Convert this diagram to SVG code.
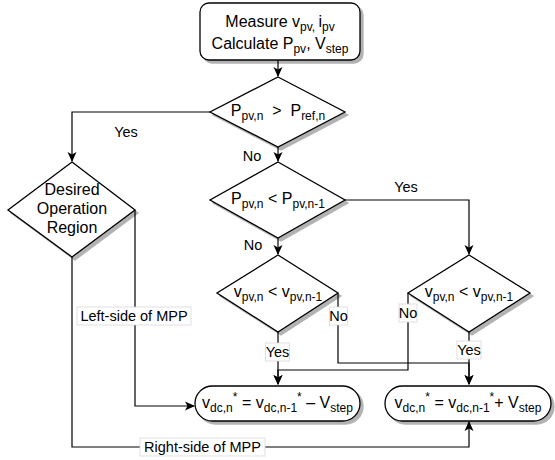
<svg xmlns="http://www.w3.org/2000/svg" width="555" height="460" viewBox="0 0 555 460">
<style>
.shape{fill:#fff;stroke:#000;stroke-width:1.3}
.edge{fill:none;stroke:#000;stroke-width:1.2}
text{font-family:"Liberation Sans",Arial,sans-serif;fill:#000}
.t{font-size:16px;text-anchor:middle}
.lbl{font-size:14.5px;text-anchor:middle}
.lbg{fill:#fff;stroke:#d8d8d8;stroke-width:0.8}
</style>
<defs>
<filter id="sh" x="-10%" y="-10%" width="130%" height="130%">
<feDropShadow dx="3" dy="3" stdDeviation="0.6" flood-color="#000" flood-opacity="0.3"/>
</filter>
<marker id="arr" viewBox="0 0 10 10" refX="9" refY="5" markerWidth="10" markerHeight="10" markerUnits="userSpaceOnUse" orient="auto">
<path d="M0,0.5 L10,5 L0,9.5 L2.5,5 Z" fill="#000"/>
</marker>
</defs>

<g id="connectors">
<path class="edge" d="M278,60 V76" marker-end="url(#arr)"/>
<path class="edge" d="M210,112 H72 V161" marker-end="url(#arr)"/>
<path class="edge" d="M278,147 V161" marker-end="url(#arr)"/>
<path class="edge" d="M345,200 H469 V254" marker-end="url(#arr)"/>
<path class="edge" d="M278,238 V254" marker-end="url(#arr)"/>
<path class="edge" d="M338,293 V363 H469 V384" marker-end="url(#arr)"/>
<path class="edge" d="M408,293 V370 H278 V384" marker-end="url(#arr)"/>
<path class="edge" d="M278,332 V384" marker-end="url(#arr)"/>
<path class="edge" d="M469,332 V384" marker-end="url(#arr)"/>
<path class="edge" d="M135,210 V406 H194" marker-end="url(#arr)"/>
<path class="edge" d="M72,257 V447 H469 V422" marker-end="url(#arr)"/>

<text class="lbl" x="126" y="137">Yes</text>
<text class="lbl" x="252" y="161">No</text>
<text class="lbl" x="406" y="192">Yes</text>
<text class="lbl" x="253" y="250">No</text>

<rect class="lbg" x="329.5" y="307" width="18" height="18"/>
<text class="lbl" x="338.5" y="321">No</text>
<rect class="lbg" x="399" y="304" width="18" height="18"/>
<text class="lbl" x="408" y="318">No</text>
<rect class="lbg" x="265.5" y="343" width="24" height="18"/>
<text class="lbl" x="277.5" y="357">Yes</text>
<rect class="lbg" x="457" y="341" width="24" height="18"/>
<text class="lbl" x="469" y="355">Yes</text>
<rect class="lbg" x="77" y="307" width="114" height="18"/>
<text class="lbl" x="134" y="321">Left-side of MPP</text>
<rect class="lbg" x="140" y="438" width="125" height="18"/>
<text class="lbl" x="202.5" y="452">Right-side of MPP</text>
</g>

<g id="start">
<rect class="shape" filter="url(#sh)" x="200" y="3" width="160" height="57" rx="9"/>
<text class="t" x="280" y="27">Measure v<tspan dy="4" font-size="12">pv, </tspan><tspan dy="-4">i</tspan><tspan dy="4" font-size="12">pv</tspan></text>
<text class="t" x="280" y="49">Calculate P<tspan dy="4" font-size="12">pv</tspan><tspan dy="-4">, V</tspan><tspan dy="4" font-size="12">step</tspan></text>
</g>

<g id="d1">
<polygon class="shape" filter="url(#sh)" points="278,77 345,112 278,147 210,112"/>
<text class="t" x="278" y="116">P<tspan dy="4" font-size="12">pv,n</tspan><tspan dy="-4">&#160; &gt; &#160;P</tspan><tspan dy="4" font-size="12">ref,n</tspan></text>
</g>

<g id="desired">
<polygon class="shape" filter="url(#sh)" points="72,162 135,210 72,257 8,210"/>
<text class="t" x="72" y="195">Desired</text>
<text class="t" x="72" y="214">Operation</text>
<text class="t" x="72" y="233">Region</text>
</g>

<g id="d2">
<polygon class="shape" filter="url(#sh)" points="278,162 345,200 278,238 210,200"/>
<text class="t" x="278" y="204">P<tspan dy="4" font-size="12">pv,n</tspan><tspan dy="-4"> &lt; P</tspan><tspan dy="4" font-size="12">pv,n-1</tspan></text>
</g>

<g id="d3">
<polygon class="shape" filter="url(#sh)" points="278,255 338,293 278,332 217,293"/>
<text class="t" x="278" y="297">v<tspan dy="4" font-size="12">pv,n</tspan><tspan dy="-4"> &lt; v</tspan><tspan dy="4" font-size="12">pv,n-1</tspan></text>
</g>

<g id="d4">
<polygon class="shape" filter="url(#sh)" points="469,255 530,293 469,332 408,293"/>
<text class="t" x="469" y="297">v<tspan dy="4" font-size="12">pv,n</tspan><tspan dy="-4"> &lt; v</tspan><tspan dy="4" font-size="12">pv,n-1</tspan></text>
</g>

<g id="box1">
<rect class="shape" filter="url(#sh)" x="195" y="386" width="165" height="35" rx="17.5"/>
<text class="t" x="277.5" y="408">v<tspan dy="4" font-size="12">dc,n</tspan><tspan dy="-11" font-size="12">*</tspan><tspan dy="7"> = v</tspan><tspan dy="4" font-size="12">dc,n-1</tspan><tspan dy="-11" font-size="12">*</tspan><tspan dy="7"> – V</tspan><tspan dy="4" font-size="12">step</tspan></text>
</g>

<g id="box2">
<rect class="shape" filter="url(#sh)" x="385" y="386" width="166" height="35" rx="17.5"/>
<text class="t" x="468" y="408">v<tspan dy="4" font-size="12">dc,n</tspan><tspan dy="-11" font-size="12">*</tspan><tspan dy="7"> = v</tspan><tspan dy="4" font-size="12">dc,n-1</tspan><tspan dy="-11" font-size="12">*</tspan><tspan dy="7">+ V</tspan><tspan dy="4" font-size="12">step</tspan></text>
</g>
</svg>
